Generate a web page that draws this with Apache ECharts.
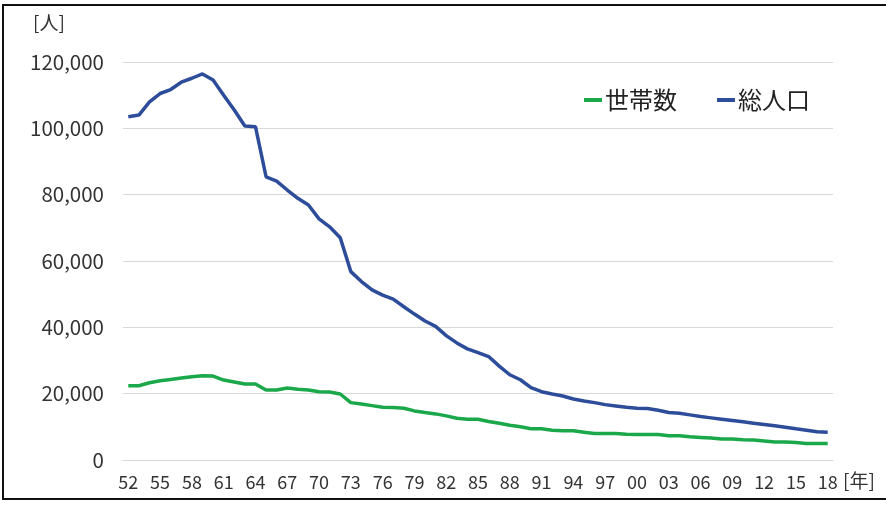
<!DOCTYPE html>
<html><head><meta charset="utf-8">
<script src="https://cdn.jsdelivr.net/npm/echarts@6/dist/echarts.min.js"></script>
<style>
html,body{margin:0;padding:0;background:#fff;}
#frame{position:absolute;left:2px;top:4px;width:900px;height:496px;border:2px solid #111;box-sizing:border-box;}
#c{position:absolute;left:0;top:0;width:886px;height:505px;}
</style></head>
<body>
<div id="frame"></div>
<div id="c"></div>
<script>
const years = ['52','53','54','55','56','57','58','59','60','61','62','63','64','65','66','67','68','69','70','71','72','73','74','75','76','77','78','79','80','81','82','83','84','85','86','87','88','89','90','91','92','93','94','95','96','97','98','99','00','01','02','03','04','05','06','07','08','09','10','11','12','13','14','15','16','17','18'];
const population = [103500,104000,108000,110500,111700,113900,115100,116400,114600,110000,105500,100700,100500,85400,84100,81400,78900,76900,72700,70300,67000,56800,53800,51300,49700,48500,46200,44000,41900,40300,37500,35300,33500,32400,31200,28300,25700,24200,21800,20600,19900,19300,18400,17800,17300,16700,16300,15900,15600,15500,15000,14300,14100,13600,13100,12700,12300,11900,11500,11100,10700,10300,9900,9400,9000,8500,8400];
const households = [22400,22400,23300,23900,24300,24700,25100,25400,25300,24100,23500,22900,22900,21100,21100,21700,21300,21100,20600,20500,19900,17300,16900,16400,15900,15800,15600,14800,14300,13900,13300,12600,12300,12300,11600,11100,10500,10000,9400,9400,9000,8800,8800,8400,8000,8000,8000,7800,7700,7700,7700,7300,7300,7000,6800,6600,6300,6300,6100,6000,5700,5400,5400,5300,5000,5000,5000];
const seriesNames = ['世帯数','総人口'];
const yUnit = '[人]';
const xUnit = '[年]';

const font = '"Noto Sans CJK JP","Noto Sans",sans-serif';
const chart = echarts.init(document.getElementById('c'), null, {renderer:'canvas'});
chart.setOption({
  backgroundColor: 'transparent',
  animation: false,
  textStyle: {fontFamily: font},
  grid: {left: 123, right: 53, top: 62, bottom: 45, containLabel: false},
  legend: {
    data: seriesNames,
    left: 579, top: 83,
    icon: 'rect', itemWidth: 18, itemHeight: 4, itemGap: 40,
    textStyle: {fontSize: 24, color: '#222', fontFamily: font, padding:[0,0,0,-2]}
  },
  graphic: [
    {type:'text', left: 33, top: 13, style:{text: yUnit, fontSize: 19, fill:'#333', fontFamily: font}},
    {type:'text', left: 843, top: 471, style:{text: xUnit, fontSize: 19, fill:'#333', fontFamily: font}}
  ],
  xAxis: {
    type: 'category', data: years, boundaryGap: true,
    axisTick: {show: false},
    axisLine: {show: true, lineStyle: {color: '#d9d9d9', width: 1}},
    axisLabel: {interval: 2, fontSize: 18, color: '#333', margin: 13, fontFamily: font}
  },
  yAxis: {
    type: 'value', min: 0, max: 120000, interval: 20000,
    axisLine: {show: false}, axisTick: {show: false},
    splitLine: {lineStyle: {color: '#d9d9d9', width: 1}},
    axisLabel: {fontSize: 20.5, color: '#333', margin: 19, fontFamily: font,
      formatter: v => v.toLocaleString('en-US')}
  },
  series: [
    {name: seriesNames[0], type: 'line', data: households, symbol: 'none',
     lineStyle: {color: '#1BA84A', width: 3.5}, itemStyle: {color: '#1BA84A'}},
    {name: seriesNames[1], type: 'line', data: population, symbol: 'none',
     lineStyle: {color: '#2D4C99', width: 3.5}, itemStyle: {color: '#2D4C99'}}
  ]
});
</script>
</body></html>
